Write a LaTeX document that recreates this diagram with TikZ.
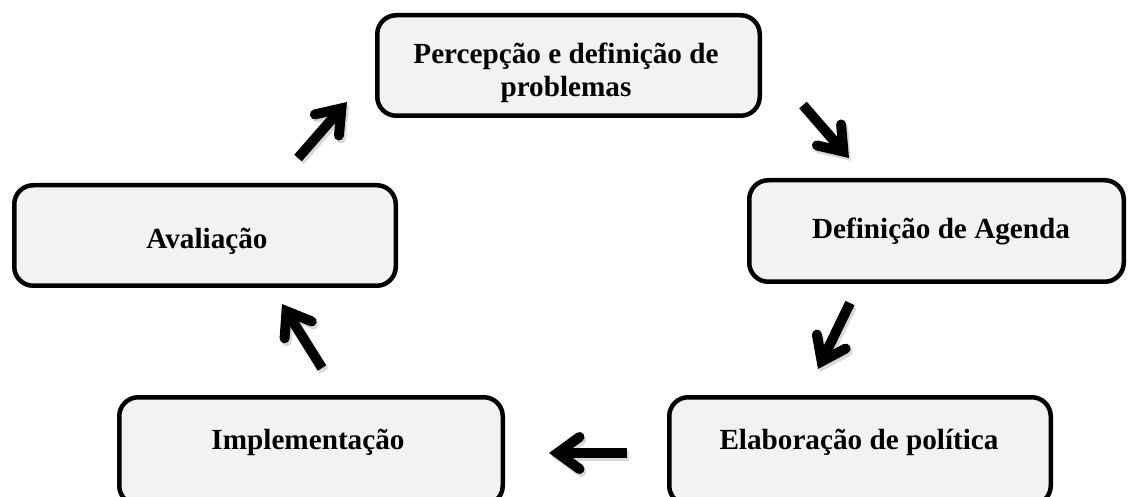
\documentclass[tikz,border=0pt]{standalone}
\usepackage{fontspec}
\setmainfont{Liberation Serif}
\usetikzlibrary{arrows.meta}
\definecolor{boxgray}{HTML}{F2F2F2}
\begin{document}
\begin{tikzpicture}[x=1pt,y=-1pt,
  stagebox/.style={draw=black, line width=4.5pt, fill=boxgray, rounded corners=19pt, inner sep=0pt},
  stagetext/.style={font=\fontsize{29.2}{33}\selectfont\bfseries, inner sep=0pt, align=center},
  cyclearrow/.style={line width=10pt, line cap=butt, black,
    -{Straight Barb[length=22pt,width=32pt,line cap=round,line join=miter]}},
  arrowshadow/.style={cyclearrow, black, opacity=0.15}
]
\useasboundingbox (0,0) rectangle (1128,497);
% boxes
\node[stagebox, minimum width=382.5pt, minimum height=100.5pt] (perc) at (568.5,65.5) {};
\node[stagebox, minimum width=374.5pt, minimum height=101.5pt] (agen) at (936.5,231) {};
\node[stagebox, minimum width=381.5pt, minimum height=100.5pt] (aval) at (205,235.5) {};
\node[stagebox, minimum width=383.5pt, minimum height=107.5pt] (impl) at (311,451) {};
\node[stagebox, minimum width=381.5pt, minimum height=107.5pt] (elab) at (860,451) {};
% texts
\node[stagetext] (percT) at (566,73) {Percepção e definição de\\problemas};
\node[stagetext, anchor=base] (agenT) at (941,239) {Definição de Agenda};
\node[stagetext, anchor=base] (avalT) at (207,249) {Avaliação};
\node[stagetext, anchor=base] (implT) at (308,449) {Implementação};
\node[stagetext, anchor=base] (elabT) at (859,449) {Elaboração de política};
% arrow ends
\coordinate (a1s) at (298,158); \coordinate (a1t) at (347,102);
\coordinate (a2s) at (803,105); \coordinate (a2t) at (849,158);
\coordinate (a3s) at (850,303); \coordinate (a3t) at (818,369);
\coordinate (a4s) at (627,453); \coordinate (a4t) at (549,453);
\coordinate (a5s) at (322,368); \coordinate (a5t) at (282,304);
\foreach \s/\t in {a1s/a1t,a2s/a2t,a3s/a3t,a4s/a4t,a5s/a5t}{
  \draw[arrowshadow] ([shift={(2,3)}]\s) -- ([shift={(2,3)}]\t);
  \draw[cyclearrow] (\s) -- (\t);
}
\end{tikzpicture}
\end{document}
